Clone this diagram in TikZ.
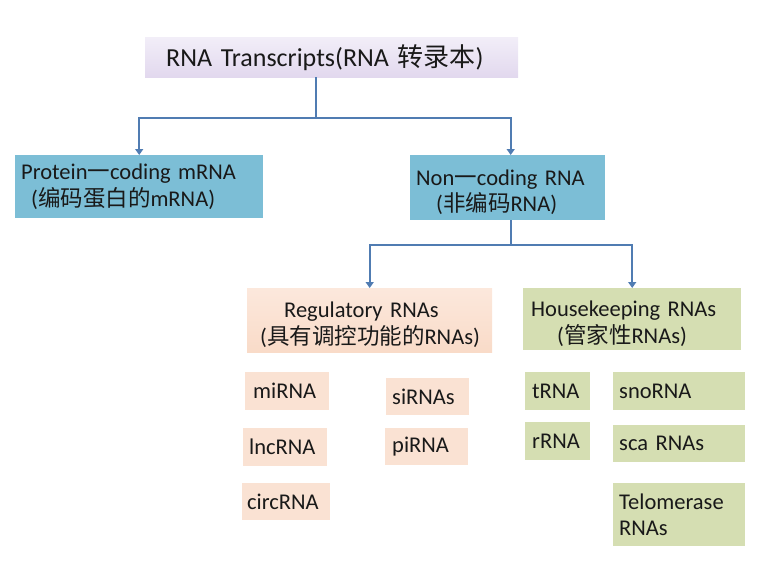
\documentclass[tikz,border=0pt]{standalone}
\usepackage{fontspec}
\setmainfont{Carlito}
\newfontfamily\cjk{Noto Sans CJK SC}
\usetikzlibrary{positioning,arrows.meta}
\definecolor{lav}{RGB}{226,216,238}
\definecolor{lavtop}{RGB}{242,238,248}
\definecolor{sky}{RGB}{124,190,214}
\definecolor{peach}{RGB}{249,219,200}
\definecolor{peachtop}{RGB}{252,232,220}
\definecolor{sage}{RGB}{213,222,178}
\definecolor{wire}{RGB}{80,124,178}
\def\fs{\fontsize{22.5}{26.5}\selectfont}
\def\fb{\fontsize{26}{28}\selectfont}
\def\dn{\rule{0pt}{25pt}}

\begin{document}
\begin{tikzpicture}[x=1pt,y=-1pt,
  box/.style={anchor=north west,inner xsep=6pt,inner ysep=0pt,align=left,font=\fs,text=black!90},
  top/.style={box,top color=lavtop,bottom color=lav,font=\fb},
  blue/.style={box,fill=sky},
  reg/.style={box,top color=peachtop,bottom color=peach},
  tiny/.style={box,fill=peach!80,inner xsep=6pt},
  house/.style={box,fill=sage,inner xsep=6pt},
  link/.style={wire,line width=1.6pt},
  arr/.style={link,-{Triangle[width=8pt,length=6pt]}}]
\useasboundingbox (0,0) rectangle (774,582);

% header
\node[top,minimum width=373,minimum height=40,inner xsep=21pt,text width=331] (rna) at (145,37) {RNA Transcripts(RNA {\cjk 转录本})};

% first level
\node[blue,minimum width=248,minimum height=63,text width=236] (pcm) at (15,155)
  {Protein{\cjk 一}coding mRNA\\\hspace*{10pt}({\cjk 编码蛋白的}mRNA)};
\node[blue,minimum width=195,minimum height=65,text width=183] (ncr) at (410,155)
  {\dn Non{\cjk 一}coding RNA\\\hspace*{20pt}({\cjk 非编码}RNA)};

% second level
\node[reg,minimum width=245,minimum height=64,text width=219,inner xsep=13pt] (regr) at (247,288)
  {\dn\hspace*{24pt}Regulatory RNAs\\({\cjk 具有调控功能的}RNAs)};
\node[house,minimum width=218,minimum height=62,text width=202,inner xsep=8pt] (hkr) at (523,288)
  {\dn Housekeeping RNAs\\\hspace*{26pt}({\cjk 管家性}RNAs)};

% leaves
\node[tiny,minimum width=80,minimum height=38,text width=68,inner xsep=8pt] (mi) at (245,372) {miRNA};
\node[tiny,minimum width=84,minimum height=38,text width=72] (lnc) at (243,428) {lncRNA};
\node[tiny,minimum width=88,minimum height=37,text width=78,inner xsep=5pt] (circ) at (242,483) {circRNA};
\node[tiny,minimum width=83,minimum height=37,text width=71] (si) at (386,378) {siRNAs};
\node[tiny,minimum width=83,minimum height=37,text width=69,inner xsep=7pt] (pi) at (385,428) {piRNA};
\node[house,minimum width=63,minimum height=38,text width=51,inner xsep=7pt] (t) at (525,372) {tRNA};
\node[house,minimum width=63,minimum height=38,text width=51,inner xsep=7pt] (r) at (525,422) {rRNA};
\node[house,minimum width=132,minimum height=38,text width=120] (sno) at (613,372) {snoRNA};
\node[house,minimum width=132,minimum height=37,text width=120] (sca) at (613,425) {sca RNAs};
\node[house,minimum width=132,minimum height=63,text width=120] (tel) at (613,483) {Telomerase\\RNAs};

% connectors
\coordinate (a0) at ([xshift=-16]rna.south);
\coordinate (a1) at (a0 |- 0,118);
\coordinate (b0) at ([xshift=3]ncr.south);
\coordinate (b1) at (b0 |- 0,245);
\draw[link] (a0) -- (a1);
\draw[arr] (a1) -| (pcm.north);
\draw[arr] (a1) -| ([xshift=3]ncr.north);
\draw[link] (b0) -- (b1);
\draw[arr] (b1) -| (regr.north);
\draw[arr] (b1) -| (hkr.north);
\end{tikzpicture}
\end{document}
